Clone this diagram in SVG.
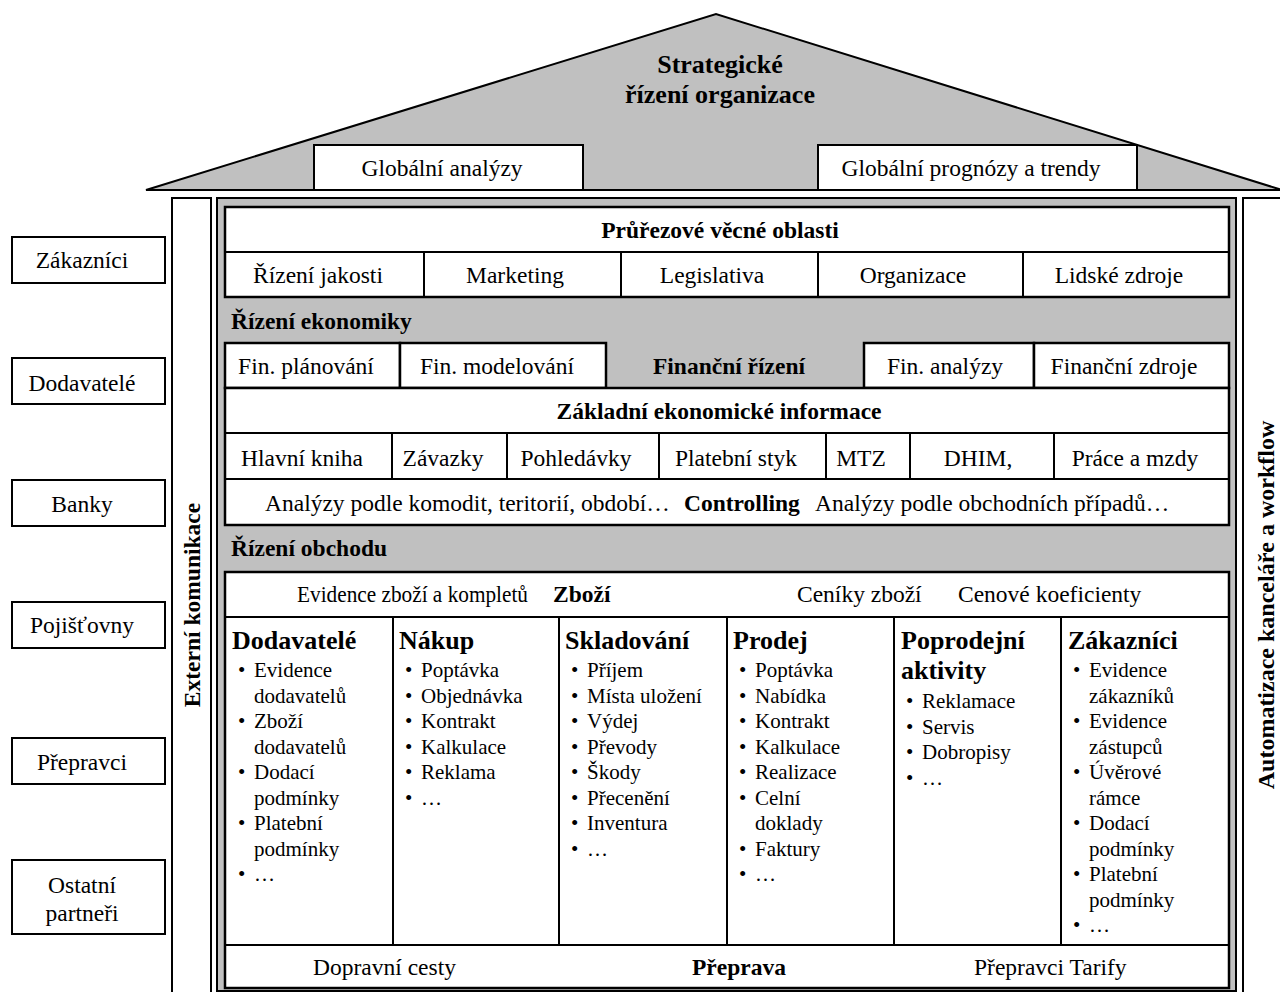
<svg xmlns="http://www.w3.org/2000/svg" width="1280" height="992" viewBox="0 0 1280 992">
<style>
.t{font-family:"Liberation Serif","Times New Roman",serif;font-size:23.5px;fill:#000}
.b{font-weight:bold}
.c{text-anchor:middle}
.li{font-size:21px}
.h{font-size:26px;font-weight:bold}
.box{fill:#fff;stroke:#000;stroke-width:2}
.gray{fill:#c0c0c0;stroke:#000;stroke-width:2}
.ln{stroke:#000;stroke-width:2;fill:none}
</style>
<rect x="0" y="0" width="1280" height="992" fill="#fff"/>

<g id="roof">
<polygon class="gray" points="146,190 716,14 1282,190"/>
<line class="ln" x1="146" y1="190" x2="1280" y2="190"/>
<text class="t b c" x="720" y="73" style="font-size:26px">Strategické</text>
<text class="t b c" x="720" y="103" style="font-size:26px">řízení organizace</text>
</g>
<g id="glob-analyzy">
<rect class="box" x="314" y="145" width="269" height="45"/>
<text class="t c" x="442" y="176">Globální analýzy</text>
</g>
<g id="glob-prognozy">
<rect class="box" x="818" y="145" width="319" height="45"/>
<text class="t c" x="971" y="176">Globální prognózy a trendy</text>
</g>

<g id="partners">
<rect class="box" x="12" y="237" width="153" height="46"/>
<text class="t c" x="82" y="268">Zákazníci</text>
<rect class="box" x="12" y="358" width="153" height="46"/>
<text class="t c" x="82" y="391">Dodavatelé</text>
<rect class="box" x="12" y="480" width="153" height="46"/>
<text class="t c" x="82" y="512">Banky</text>
<rect class="box" x="12" y="602" width="153" height="46"/>
<text class="t c" x="82" y="633">Pojišťovny</text>
<rect class="box" x="12" y="738" width="153" height="46"/>
<text class="t c" x="82" y="770">Přepravci</text>
<rect class="box" x="12" y="860" width="153" height="74"/>
<text class="t c" x="82" y="893">Ostatní</text>
<text class="t c" x="82" y="921">partneři</text>
</g>

<g id="externi-komunikace">
<rect class="box" x="172" y="198" width="39" height="800"/>
<text class="t b c" transform="translate(200,605) rotate(-90)" x="0" y="0">Externí komunikace</text>
</g>
<g id="automatizace">
<rect class="box" x="1243" y="198" width="45" height="800"/>
<text class="t b c" transform="translate(1274,605) rotate(-90)" x="0" y="0" style="font-size:24px">Automatizace kanceláře a workflow</text>
</g>

<g id="frame">
<rect class="gray" x="217" y="198" width="1019" height="793"/>
</g>

<g id="prurezove">
<rect class="box" x="225" y="207" width="1004" height="90" style="stroke-width:2.5"/>
<line class="ln" x1="225" y1="252" x2="1229" y2="252"/>
<line class="ln" x1="424" y1="252" x2="424" y2="297"/>
<line class="ln" x1="621" y1="252" x2="621" y2="297"/>
<line class="ln" x1="818" y1="252" x2="818" y2="297"/>
<line class="ln" x1="1023" y1="252" x2="1023" y2="297"/>
<text class="t b c" x="720" y="238">Průřezové věcné oblasti</text>
<text class="t c" x="318" y="283">Řízení jakosti</text>
<text class="t c" x="515" y="283">Marketing</text>
<text class="t c" x="712" y="283">Legislativa</text>
<text class="t c" x="913" y="283">Organizace</text>
<text class="t c" x="1119" y="283">Lidské zdroje</text>
</g>

<g id="rizeni-ekonomiky">
<text class="t b" x="231" y="329">Řízení ekonomiky</text>
</g>

<g id="financni-rizeni">
<rect class="box" x="225" y="343" width="175" height="45" style="stroke-width:2.5"/>
<rect class="box" x="400" y="343" width="206" height="45" style="stroke-width:2.5"/>
<rect class="box" x="864" y="343" width="170" height="45" style="stroke-width:2.5"/>
<rect class="box" x="1034" y="343" width="195" height="45" style="stroke-width:2.5"/>
<text class="t c" x="306" y="374">Fin. plánování</text>
<text class="t c" x="497" y="374">Fin. modelování</text>
<text class="t b c" x="729" y="374">Finanční řízení</text>
<text class="t c" x="945" y="374">Fin. analýzy</text>
<text class="t c" x="1124" y="374">Finanční zdroje</text>
</g>

<g id="zakladni-informace">
<rect class="box" x="225" y="388" width="1004" height="137" style="stroke-width:2.5"/>
<line class="ln" x1="225" y1="433" x2="1229" y2="433"/>
<line class="ln" x1="225" y1="479" x2="1229" y2="479"/>
<line class="ln" x1="392" y1="433" x2="392" y2="479"/>
<line class="ln" x1="507" y1="433" x2="507" y2="479"/>
<line class="ln" x1="659" y1="433" x2="659" y2="479"/>
<line class="ln" x1="826" y1="433" x2="826" y2="479"/>
<line class="ln" x1="910" y1="433" x2="910" y2="479"/>
<line class="ln" x1="1054" y1="433" x2="1054" y2="479"/>
<text class="t b c" x="719" y="419">Základní ekonomické informace</text>
<text class="t c" x="302" y="466">Hlavní kniha</text>
<text class="t c" x="443" y="466">Závazky</text>
<text class="t c" x="576" y="466">Pohledávky</text>
<text class="t c" x="736" y="466">Platební styk</text>
<text class="t c" x="861" y="466">MTZ</text>
<text class="t c" x="978" y="466">DHIM,</text>
<text class="t c" x="1135" y="466">Práce a mzdy</text>
<text class="t" x="265" y="511">Analýzy podle komodit, teritorií, období…</text>
<text class="t b" x="684" y="511">Controlling</text>
<text class="t" x="815" y="511">Analýzy podle obchodních případů…</text>
</g>

<g id="rizeni-obchodu">
<text class="t b" x="231" y="556">Řízení obchodu</text>
</g>

<g id="obchod">
<rect class="box" x="225" y="572" width="1004" height="416" style="stroke-width:2.5"/>
<line class="ln" x1="225" y1="617" x2="1229" y2="617"/>
<line class="ln" x1="225" y1="945" x2="1229" y2="945"/>
<line class="ln" x1="393" y1="617" x2="393" y2="945"/>
<line class="ln" x1="559" y1="617" x2="559" y2="945"/>
<line class="ln" x1="727" y1="617" x2="727" y2="945"/>
<line class="ln" x1="894" y1="617" x2="894" y2="945"/>
<line class="ln" x1="1061" y1="617" x2="1061" y2="945"/>
<text class="t" x="297" y="602" textLength="231" lengthAdjust="spacingAndGlyphs">Evidence zboží a kompletů</text>
<text class="t b" x="553" y="602">Zboží</text>
<text class="t" x="797" y="602">Ceníky zboží</text>
<text class="t" x="958" y="602">Cenové koeficienty</text>
<text class="t" x="313" y="975">Dopravní cesty</text>
<text class="t b" x="692" y="975">Přeprava</text>
<text class="t" x="974" y="975">Přepravci Tarify</text>
</g>

<g id="col-dodavatele">
<text class="t h" x="232" y="649">Dodavatelé</text>
<g class="t li">
<text x="238" y="677">•</text><text x="254" y="677">Evidence</text>
<text x="254" y="702.5">dodavatelů</text>
<text x="238" y="728">•</text><text x="254" y="728">Zboží</text>
<text x="254" y="753.5">dodavatelů</text>
<text x="238" y="779">•</text><text x="254" y="779">Dodací</text>
<text x="254" y="804.5">podmínky</text>
<text x="238" y="830">•</text><text x="254" y="830">Platební</text>
<text x="254" y="855.5">podmínky</text>
<text x="238" y="881">•</text><text x="254" y="881">…</text>
</g>
</g>

<g id="col-nakup">
<text class="t h" x="399" y="649">Nákup</text>
<g class="t li">
<text x="405" y="677">•</text><text x="421" y="677">Poptávka</text>
<text x="405" y="702.5">•</text><text x="421" y="702.5">Objednávka</text>
<text x="405" y="728">•</text><text x="421" y="728">Kontrakt</text>
<text x="405" y="753.5">•</text><text x="421" y="753.5">Kalkulace</text>
<text x="405" y="779">•</text><text x="421" y="779">Reklama</text>
<text x="405" y="804.5">•</text><text x="421" y="804.5">…</text>
</g>
</g>

<g id="col-skladovani">
<text class="t h" x="565" y="649">Skladování</text>
<g class="t li">
<text x="571" y="677">•</text><text x="587" y="677">Příjem</text>
<text x="571" y="702.5">•</text><text x="587" y="702.5">Místa uložení</text>
<text x="571" y="728">•</text><text x="587" y="728">Výdej</text>
<text x="571" y="753.5">•</text><text x="587" y="753.5">Převody</text>
<text x="571" y="779">•</text><text x="587" y="779">Škody</text>
<text x="571" y="804.5">•</text><text x="587" y="804.5">Přecenění</text>
<text x="571" y="830">•</text><text x="587" y="830">Inventura</text>
<text x="571" y="855.5">•</text><text x="587" y="855.5">…</text>
</g>
</g>

<g id="col-prodej">
<text class="t h" x="733" y="649">Prodej</text>
<g class="t li">
<text x="739" y="677">•</text><text x="755" y="677">Poptávka</text>
<text x="739" y="702.5">•</text><text x="755" y="702.5">Nabídka</text>
<text x="739" y="728">•</text><text x="755" y="728">Kontrakt</text>
<text x="739" y="753.5">•</text><text x="755" y="753.5">Kalkulace</text>
<text x="739" y="779">•</text><text x="755" y="779">Realizace</text>
<text x="739" y="804.5">•</text><text x="755" y="804.5">Celní</text>
<text x="755" y="830">doklady</text>
<text x="739" y="855.5">•</text><text x="755" y="855.5">Faktury</text>
<text x="739" y="881">•</text><text x="755" y="881">…</text>
</g>
</g>

<g id="col-poprodejni">
<text class="t h" x="901" y="649">Poprodejní</text>
<text class="t h" x="901" y="679">aktivity</text>
<g class="t li">
<text x="906" y="708">•</text><text x="922" y="708">Reklamace</text>
<text x="906" y="733.5">•</text><text x="922" y="733.5">Servis</text>
<text x="906" y="759">•</text><text x="922" y="759">Dobropisy</text>
<text x="906" y="784.5">•</text><text x="922" y="784.5">…</text>
</g>
</g>

<g id="col-zakaznici">
<text class="t h" x="1068" y="649">Zákazníci</text>
<g class="t li">
<text x="1073" y="677">•</text><text x="1089" y="677">Evidence</text>
<text x="1089" y="702.5">zákazníků</text>
<text x="1073" y="728">•</text><text x="1089" y="728">Evidence</text>
<text x="1089" y="753.5">zástupců</text>
<text x="1073" y="779">•</text><text x="1089" y="779">Úvěrové</text>
<text x="1089" y="804.5">rámce</text>
<text x="1073" y="830">•</text><text x="1089" y="830">Dodací</text>
<text x="1089" y="855.5">podmínky</text>
<text x="1073" y="881">•</text><text x="1089" y="881">Platební</text>
<text x="1089" y="906.5">podmínky</text>
<text x="1073" y="932">•</text><text x="1089" y="932">…</text>
</g>
</g>

<g id="connectors"></g>
</svg>
